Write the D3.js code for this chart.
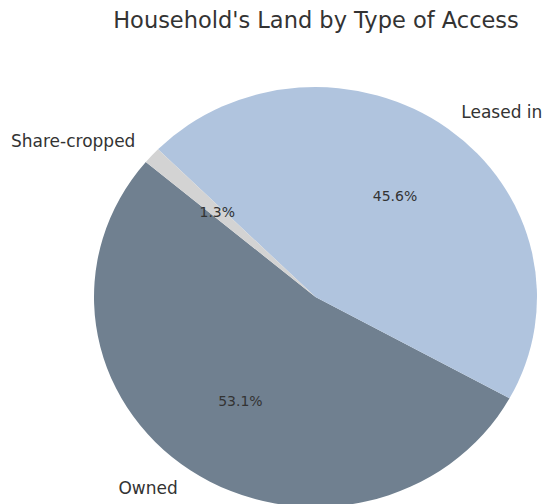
<!DOCTYPE html>
<html>
<head>
<meta charset="utf-8">
<script src="https://cdn.jsdelivr.net/npm/d3@7"></script>
<style>
  html, body { margin: 0; padding: 0; background: #fff; }
  svg { display: block; }
  text { font-family: "DejaVu Sans", sans-serif; fill: #333; }
</style>
</head>
<body>
<svg id="chart" width="545" height="504"></svg>
<script>
// Land access categories and their shares (%)
const categories = ["Owned", "Leased in", "Share-cropped"];
const shares = [53.1, 45.6, 1.3];
const colors = ["#708090", "#B0C4DE", "#D3D3D3"];

const svg = d3.select("#chart");
const cx = 315.5, cy = 297;
const rx = 221.5, ry = 210;
const sy = ry / rx;

svg.append("text")
  .attr("x", 316).attr("y", 28)
  .attr("text-anchor", "middle")
  .style("font-size", "22.5px")
  .text("Household's Land by Type of Access");

// Slices run counterclockwise starting at 140° (measured from 3 o'clock)
const start = (90 - 140) * Math.PI / 180;
const pie = d3.pie().sort(null).value(d => d).startAngle(start).endAngle(start - 2 * Math.PI);
const arcs = pie(shares);

const arc = d3.arc().innerRadius(0).outerRadius(rx);

const g = svg.append("g").attr("transform", `translate(${cx},${cy}) scale(1,${sy})`);
g.selectAll("path")
  .data(arcs)
  .join("path")
  .attr("d", arc)
  .attr("fill", (d, i) => colors[i]);

const pos = (a, f) => {
  const mid = (a.startAngle + a.endAngle) / 2;
  return [cx + f * rx * Math.sin(mid), cy - f * ry * Math.cos(mid)];
};

// Category labels outside the pie
svg.selectAll("text.lbl")
  .data(arcs)
  .join("text")
  .attr("class", "lbl")
  .attr("x", d => pos(d, 1.1)[0])
  .attr("y", d => pos(d, 1.1)[1])
  .attr("dy", "0.35em")
  .attr("text-anchor", d => pos(d, 1.1)[0] < cx ? "end" : "start")
  .style("font-size", "17px")
  .text((d, i) => categories[i]);

// Percentage labels inside the slices
svg.selectAll("text.pct")
  .data(arcs)
  .join("text")
  .attr("class", "pct")
  .attr("x", d => pos(d, 0.6)[0])
  .attr("y", d => pos(d, 0.6)[1])
  .attr("dy", "0.35em")
  .attr("text-anchor", "middle")
  .style("font-size", "14px")
  .text(d => d.data.toFixed(1) + "%");
</script>
</body>
</html>
